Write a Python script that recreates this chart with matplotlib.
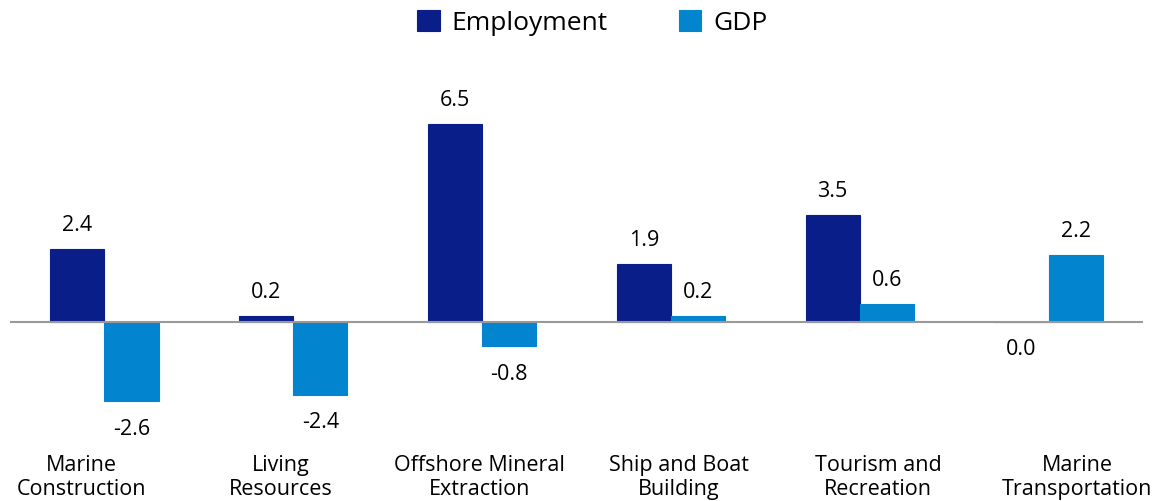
import matplotlib
matplotlib.use("Agg")
import matplotlib.pyplot as plt
import numpy as np

# data
categories = ["Marine\nConstruction", "Living\nResources", "Offshore Mineral\nExtraction",
              "Ship and Boat\nBuilding", "Tourism and\nRecreation", "Marine\nTransportation"]
employment = [2.4, 0.2, 6.5, 1.9, 3.5, 0.0]
gdp = [-2.6, -2.4, -0.8, 0.2, 0.6, 2.2]

EMP_COLOR = "#0a1e8a"
GDP_COLOR = "#0284cf"

plt.rcParams["font.family"] = ["Open Sans", "DejaVu Sans"]

fig = plt.figure(figsize=(11.59, 5.01), dpi=100)
ax = fig.add_axes([10 / 1159, 1 - 440 / 501, 1133 / 1159, 380 / 501])

x = np.arange(len(categories))
w = 0.287
b1 = ax.bar(x - w / 2, employment, w, color=EMP_COLOR, edgecolor=EMP_COLOR, linewidth=0.8, label="Employment")
b2 = ax.bar(x + w / 2, gdp, w, color=GDP_COLOR, edgecolor=GDP_COLOR, linewidth=0.8, label="GDP")

# value labels
for bars, vals in ((b1, employment), (b2, gdp)):
    for rect, v in zip(bars, vals):
        cx = rect.get_x() + rect.get_width() / 2
        if v > 0:
            ax.annotate(f"{v:.1f}", (cx, v), xytext=(0, 17), textcoords="offset points",
                        ha="center", va="center", fontsize=15.5)
        else:
            ax.annotate(f"{abs(v):.1f}" if v == 0 else f"{v:.1f}", (cx, v), xytext=(0, -20),
                        textcoords="offset points", ha="center", va="center", fontsize=15.5)

ax.axhline(0, color="#999999", linewidth=1.5, zorder=3)
ax.set_xlim(-0.5, len(categories) - 0.5)
ax.set_ylim(-3.87, 8.59)
# category labels sit on a slightly wider spacing than the bar groups
ax.set_xticks(x * 1.054 - 0.12)
ax.set_xticklabels(categories, fontsize=15.5, linespacing=1.18)
ax.tick_params(axis="x", length=0, pad=11)
ax.set_yticks([])
for s in ax.spines.values():
    s.set_visible(False)

fig.legend(handles=[b1, b2], loc="upper center", bbox_to_anchor=(0.511, 1.027), ncol=2,
           frameon=False, fontsize=19, handlelength=0.85, handleheight=0.85,
           handletextpad=0.45, columnspacing=2.7)

fig.savefig("out.png", dpi=100)
